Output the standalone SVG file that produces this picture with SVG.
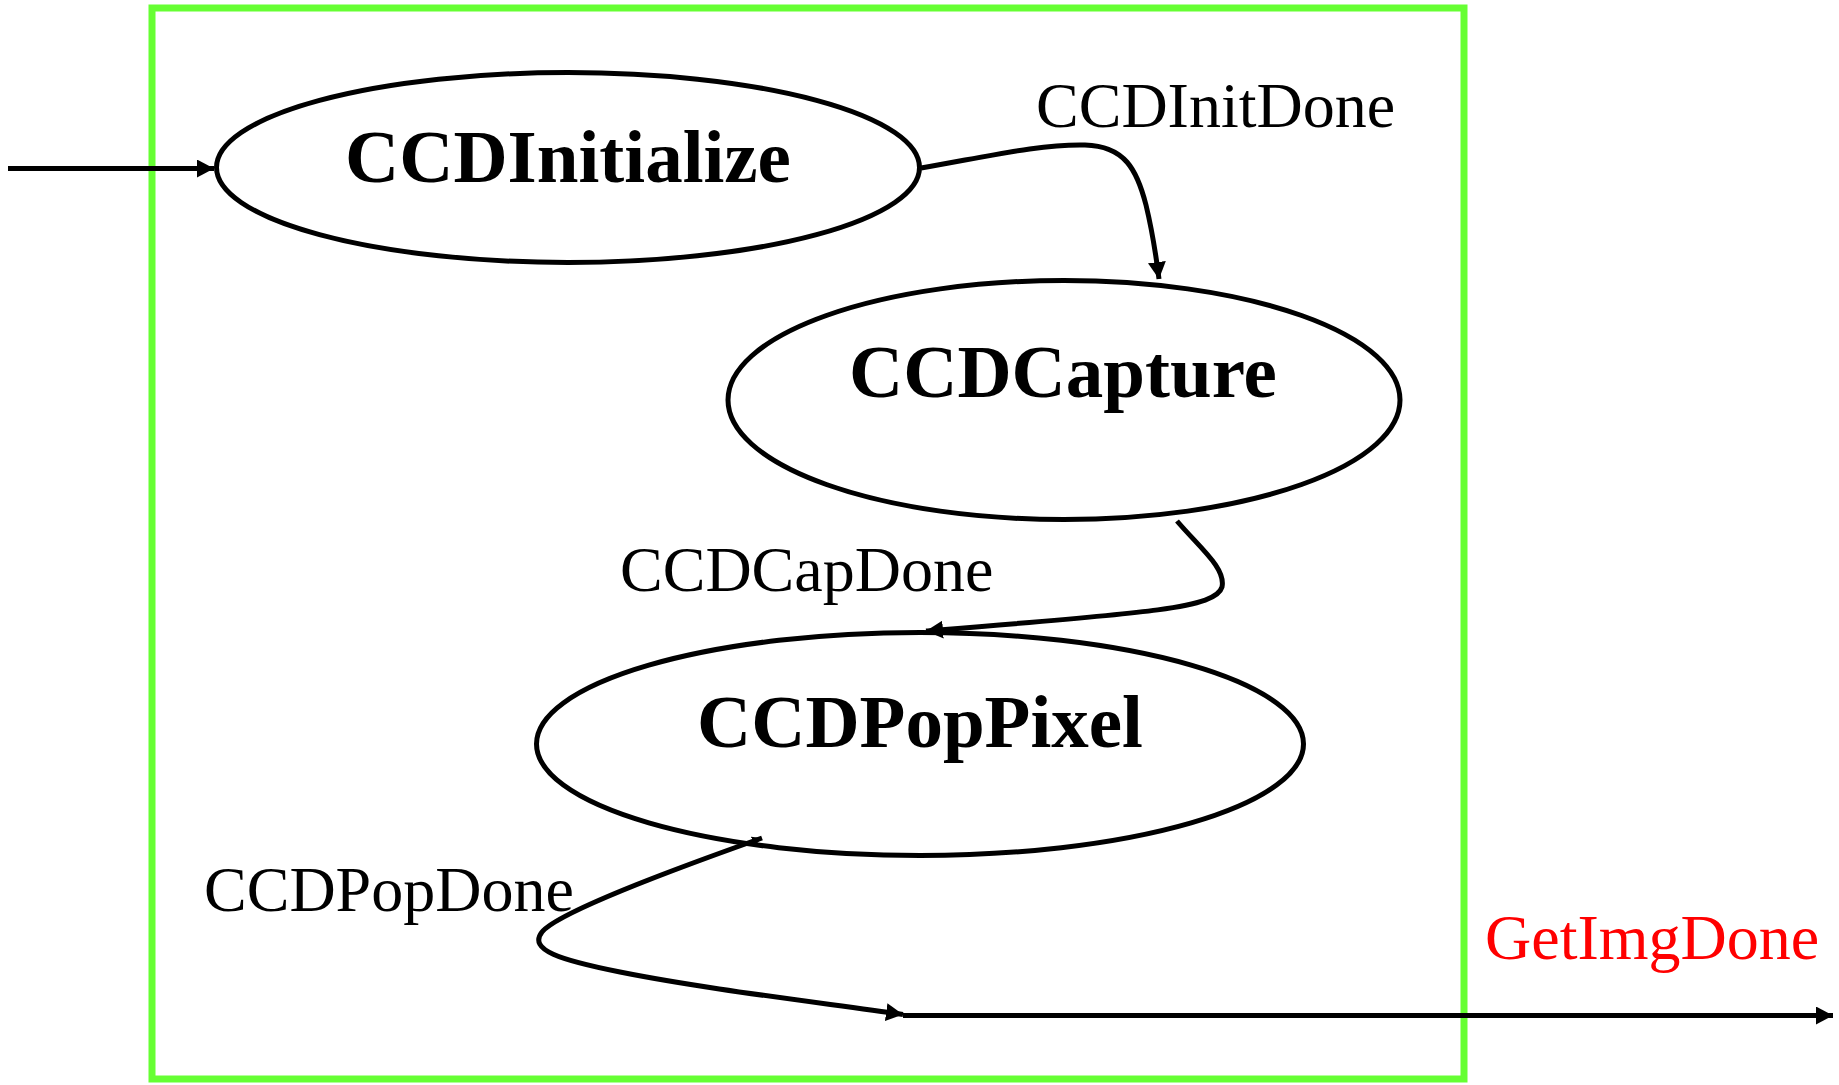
<svg xmlns="http://www.w3.org/2000/svg" width="1839" height="1085" viewBox="0 0 1839 1085">
  <style>
    .state { fill: #ffffff; stroke: #000000; stroke-width: 5; }
    .state-label { font-family: "Liberation Serif", "Times New Roman", serif; font-weight: bold; font-size: 75px; fill: #000000; text-anchor: middle; }
    .edge { fill: none; stroke: #000000; stroke-width: 5; }
    .edge-label { font-family: "Liberation Serif", "Times New Roman", serif; font-size: 64px; fill: #000000; }
    .out-label { fill: #ff0000; }
    .frame { fill: none; stroke: #66ff33; stroke-width: 7; }
  </style>
  <defs>
    <marker id="arrow" viewBox="0 0 17 18" refX="17" refY="9" markerWidth="17" markerHeight="18" markerUnits="userSpaceOnUse" orient="auto">
      <path d="M0,0 L17,9 L0,18 Z" fill="#000000"/>
    </marker>
    <marker id="barb" viewBox="0 0 10 10" refX="10" refY="5" markerWidth="10" markerHeight="10" markerUnits="userSpaceOnUse" orient="auto-start-reverse">
      <path d="M0,0 L10,5 L0,10 Z" fill="#000000"/>
    </marker>
  </defs>

  <rect fill="#ffffff" x="0" y="0" width="1839" height="1085"/>

  <!-- module boundary -->
  <rect class="frame" x="152" y="8" width="1312" height="1071"/>

  <!-- states -->
  <g id="node-ccdinitialize">
    <ellipse class="state" cx="568" cy="167.5" rx="351.5" ry="95"/>
    <text class="state-label" x="568" y="182">CCDInitialize</text>
  </g>
  <g id="node-ccdcapture">
    <ellipse class="state" cx="1064" cy="400" rx="336" ry="119.5"/>
    <text class="state-label" x="1063" y="397">CCDCapture</text>
  </g>
  <g id="node-ccdpoppixel">
    <ellipse class="state" cx="920" cy="744" rx="383.5" ry="111.5"/>
    <text class="state-label" x="920" y="747">CCDPopPixel</text>
  </g>

  <!-- transitions -->
  <g id="connectors">
    <!-- entry -->
    <path class="edge" d="M8 168.5 L214 168.5" marker-end="url(#arrow)"/>
    <!-- CCDInitialize -> CCDCapture -->
    <path class="edge" d="M921 168 C990 156, 1040 144, 1085 145 C1125 146, 1137 170, 1146 205 C1152 230, 1156 255, 1159 279" marker-end="url(#arrow)"/>
    <!-- CCDCapture -> CCDPopPixel -->
    <path class="edge" d="M1177 521 C1200 548, 1226 568, 1222 587 C1216 608, 1150 613, 926 631" marker-end="url(#arrow)"/>
    <!-- CCDPopPixel -> exit -->
    <path class="edge" d="M762 838 C700 860, 560 910, 542 932 C528 950, 560 960, 620 972 C700 988, 800 1000, 903 1014.5" marker-start="url(#barb)" marker-end="url(#arrow)"/>
    <path class="edge" d="M903 1015.5 L1833 1015.5" marker-end="url(#arrow)"/>
  </g>

  <!-- transition labels -->
  <g id="labels">
    <text class="edge-label" x="1036" y="127">CCDInitDone</text>
    <text class="edge-label" x="620" y="591">CCDCapDone</text>
    <text class="edge-label" x="204" y="911">CCDPopDone</text>
    <text class="edge-label out-label" x="1485" y="959">GetImgDone</text>
  </g>
</svg>
